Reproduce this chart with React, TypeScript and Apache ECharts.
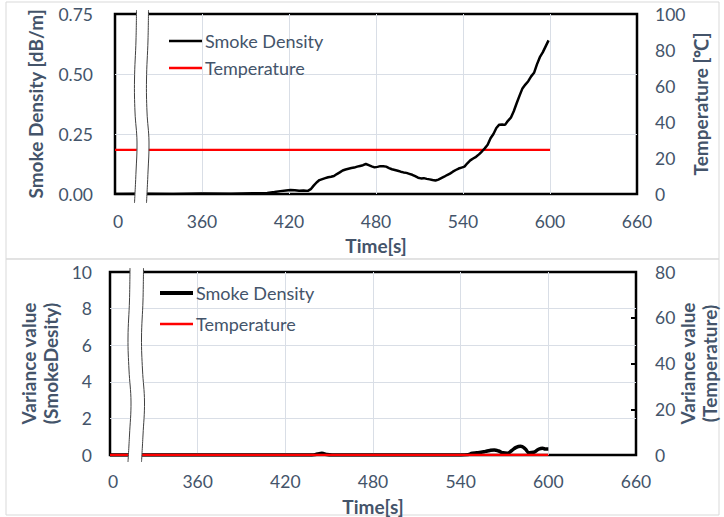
import React, { useEffect, useRef } from "react";
import * as echarts from "echarts";

// ---- data ----
const xTicks = [300, 360, 420, 480, 540, 600, 660]; // first tick is shown as "0" (axis break)

const smokeTime = [
  300, 320, 340, 360, 380, 395, 405, 410, 414, 418, 421, 424, 427, 430, 433, 435, 437, 439, 441, 443,
  445, 447, 449, 451, 453, 455, 457, 459, 461, 463, 465, 467, 469, 471, 473, 475, 477, 479, 481, 483,
  485, 487, 489, 491, 493, 495, 497, 499, 501, 503, 505, 507, 509, 511, 513, 515, 517, 519, 521, 523,
  525, 527, 529, 531, 533, 535, 537, 539, 541, 543, 545, 547, 549, 551, 553, 555, 557, 559, 561, 563,
  565, 567, 569, 571, 573, 575, 577, 579, 581, 583, 585, 587, 589, 591, 593, 595, 597, 599,
];
const smokeDensity = [
  0.0, 0.001, 0.0, 0.002, 0.001, 0.003, 0.004, 0.008, 0.012, 0.015, 0.017, 0.016, 0.014, 0.015, 0.013, 0.02, 0.035, 0.048, 0.058, 0.062,
  0.066, 0.07, 0.072, 0.075, 0.083, 0.09, 0.098, 0.102, 0.105, 0.108, 0.11, 0.114, 0.117, 0.12, 0.125, 0.12, 0.115, 0.111, 0.113, 0.116,
  0.116, 0.114, 0.108, 0.103, 0.1, 0.097, 0.093, 0.09, 0.088, 0.084, 0.08, 0.074, 0.068, 0.065, 0.066, 0.063, 0.061, 0.058, 0.056, 0.06,
  0.066, 0.072, 0.079, 0.085, 0.093, 0.1, 0.106, 0.11, 0.114, 0.128, 0.14, 0.148, 0.155, 0.165, 0.177, 0.19, 0.205, 0.232, 0.25, 0.275,
  0.289, 0.29, 0.288, 0.305, 0.318, 0.345, 0.378, 0.41, 0.44, 0.456, 0.47, 0.49, 0.505, 0.54, 0.57, 0.59, 0.615, 0.64,
];

const tempTime = [300, 360, 420, 480, 540, 600];
const temperature = [24.5, 24.5, 24.5, 24.5, 24.5, 24.5];

const varTime = [
  300, 360, 420, 438, 442, 445, 448, 452, 480, 520, 540, 545, 548, 551, 554, 557, 560, 563, 566, 569,
  572, 575, 578, 581, 584, 587, 590, 593, 596, 598, 600,
];
const smokeVariance = [
  0, 0, 0, 0, 0.05, 0.1, 0.03, 0, 0, 0, 0, 0.02, 0.1, 0.12, 0.15, 0.2, 0.25, 0.27, 0.22, 0.12,
  0.1, 0.25, 0.42, 0.48, 0.35, 0.12, 0.15, 0.3, 0.37, 0.33, 0.33,
];
const tempVarTime = [300, 360, 420, 480, 540, 600];
const tempVariance = [0, 0, 0, 0, 0, 0];

const FONT = "Lato";
const TXT = "#44546a";
const GRIDC = "#d9dee6";

const breakLine = (pts: number[][], dx: number) => pts.map(([x, y]) => [x + dx, y]);

export default function App() {
  const ref = useRef<HTMLDivElement>(null);
  useEffect(() => {
    if (!ref.current) return;
    const chart = echarts.init(ref.current, undefined, { renderer: "svg" });

    const label = (fmt?: (v: number) => string, margin = 18, rich?: any) => ({
      color: TXT,
      fontSize: 17.5,
      fontFamily: FONT,
      margin,
      formatter: fmt,
      rich,
    });
    const nameStyle = { color: TXT, fontSize: 19, fontWeight: "bold" as const, fontFamily: FONT, lineHeight: 22 };
    const split = { show: true, showMinLine: false, showMaxLine: false, lineStyle: { color: GRIDC, width: 1 } };
    const xFmt = (v: number) => (v === xTicks[0] ? "{z|0}" : String(v));
    const xRich = { z: { color: TXT, fontSize: 17.5, fontFamily: FONT, padding: [0, 0, 0, 6] } };

    const topL = [[136.5, 10], [136, 40], [134.5, 80], [135, 112], [137, 142], [136, 172], [134.5, 203]];
    const botL = [[130, 268], [129.5, 300], [128, 338], [129, 370], [131, 402], [129.5, 435], [128, 462]];
    const mkBreak = (L: number[][], w: number) => {
      const R = breakLine(L, w);
      return [
        { type: "polygon", z: 100, shape: { points: [...L, ...R.slice().reverse()], smooth: 0 }, style: { fill: "#fff" } },
        { type: "polyline", z: 101, shape: { points: L, smooth: 0.4 }, style: { stroke: "#404040", lineWidth: 1, fill: null } },
        { type: "polyline", z: 101, shape: { points: R, smooth: 0.4 }, style: { stroke: "#404040", lineWidth: 1, fill: null } },
      ];
    };

    const legendItem = (name: string, left: number, center: number, thick: number) => ({
      left,
      top: center - 10,
      padding: 0,
      orient: "vertical",
      icon: "rect",
      itemWidth: 33,
      itemHeight: thick,
      data: [name],
      textStyle: { color: TXT, fontSize: 18, fontFamily: FONT, lineHeight: 20, padding: [0, 0, 0, -2] },
      selectedMode: false,
    });

    chart.setOption({
      animation: false,
      backgroundColor: "#fff",
      grid: [
        { left: 115, top: 14, width: 522, height: 180, outerBoundsMode: "none", containLabel: false, show: true, borderColor: "#000", borderWidth: 2.5, backgroundColor: "transparent" },
        { left: 110, top: 272, width: 526, height: 183, outerBoundsMode: "none", containLabel: false, show: true, borderColor: "#000", borderWidth: 2.5, backgroundColor: "transparent" },
      ],
      xAxis: [0, 1].map((g) => ({
        type: "value",
        gridIndex: g,
        min: xTicks[0],
        max: xTicks[xTicks.length - 1],
        interval: 60,
        axisLine: { show: false },
        axisTick: { show: false },
        axisLabel: label(xFmt, g === 0 ? 18 : 17, xRich),
        splitLine: split,
        name: "Time[s]",
        nameLocation: "middle",
        nameGap: 40,
        nameMoveOverlap: false,
        nameTextStyle: nameStyle,
      })),
      yAxis: [
        {
          type: "value", gridIndex: 0, position: "left", min: 0, max: 0.75, interval: 0.25,
          axisLine: { show: false }, axisTick: { show: false },
          axisLabel: label((v: number) => v.toFixed(2), 22),
          splitLine: split,
          name: "Smoke Density [dB/m]", nameLocation: "middle", nameGap: 69, nameRotate: 90, nameMoveOverlap: false, nameTextStyle: nameStyle,
        },
        {
          type: "value", gridIndex: 0, position: "right", min: 0, max: 100, interval: 20,
          axisLine: { show: false }, axisTick: { show: false },
          axisLabel: label(undefined, 18),
          splitLine: { show: false },
          name: "Temperature [℃]", nameLocation: "middle", nameGap: 52, nameRotate: 90, nameMoveOverlap: false, nameTextStyle: nameStyle,
        },
        {
          type: "value", gridIndex: 1, position: "left", min: 0, max: 10, interval: 2,
          axisLine: { show: false }, axisTick: { show: false },
          axisLabel: label(undefined, 18),
          splitLine: split,
          name: "Variance value\n(SmokeDesity)", nameLocation: "middle", nameGap: 49, nameRotate: 90, nameMoveOverlap: false, nameTextStyle: nameStyle,
        },
        {
          type: "value", gridIndex: 1, position: "right", min: 0, max: 80, interval: 20,
          axisLine: { show: false },
          axisTick: { show: true, inside: true, length: 5, lineStyle: { color: "#000", width: 2 } },
          axisLabel: label(undefined, 19),
          splitLine: { show: false },
          name: "Variance value\n(Temperature)", nameLocation: "middle", nameGap: 40, nameRotate: 90, nameMoveOverlap: false, nameTextStyle: nameStyle,
        },
      ],
      legend: [
        legendItem("Smoke Density", 169, 41, 2.5),
        legendItem("Temperature", 169, 68, 2.5),
        legendItem("Smoke Density", 160, 293, 4),
        legendItem("Temperature", 160, 324, 2.5),
      ],
      series: [
        {
          name: "Temperature", type: "line", xAxisIndex: 0, yAxisIndex: 1, symbol: "none", color: "#ff0000",
          lineStyle: { color: "#ff0000", width: 2.2 },
          data: tempTime.map((t, i) => [t, temperature[i]]),
        },
        {
          name: "Smoke Density", type: "line", xAxisIndex: 0, yAxisIndex: 0, symbol: "none", color: "#000",
          lineStyle: { color: "#000", width: 2.5 },
          data: smokeTime.map((t, i) => [t, smokeDensity[i]]),
        },
        {
          name: "Smoke Density", type: "line", xAxisIndex: 1, yAxisIndex: 2, symbol: "none", color: "#000", smooth: 0.5,
          lineStyle: { color: "#000", width: 3.5 },
          data: varTime.map((t, i) => [t, smokeVariance[i]]),
        },
        {
          name: "Temperature", type: "line", xAxisIndex: 1, yAxisIndex: 3, symbol: "none", color: "#ff0000",
          lineStyle: { color: "#ff0000", width: 2.5 },
          data: tempVarTime.map((t, i) => [t, tempVariance[i]]),
        },
      ],
      graphic: [
        { type: "rect", z: -1, shape: { x: 6, y: 2, width: 713, height: 257 }, style: { fill: "none", stroke: "#d9d9d9", lineWidth: 1 } },
        { type: "rect", z: -1, shape: { x: 6, y: 259, width: 713, height: 256 }, style: { fill: "none", stroke: "#d9d9d9", lineWidth: 1 } },
        ...mkBreak(topL, 12),
        ...mkBreak(botL, 13.5),
      ],
    });
    return () => chart.dispose();
  }, []);
  return <div ref={ref} style={{ position: "absolute", left: 0, top: 0, width: 724, height: 517 }} />;
}
